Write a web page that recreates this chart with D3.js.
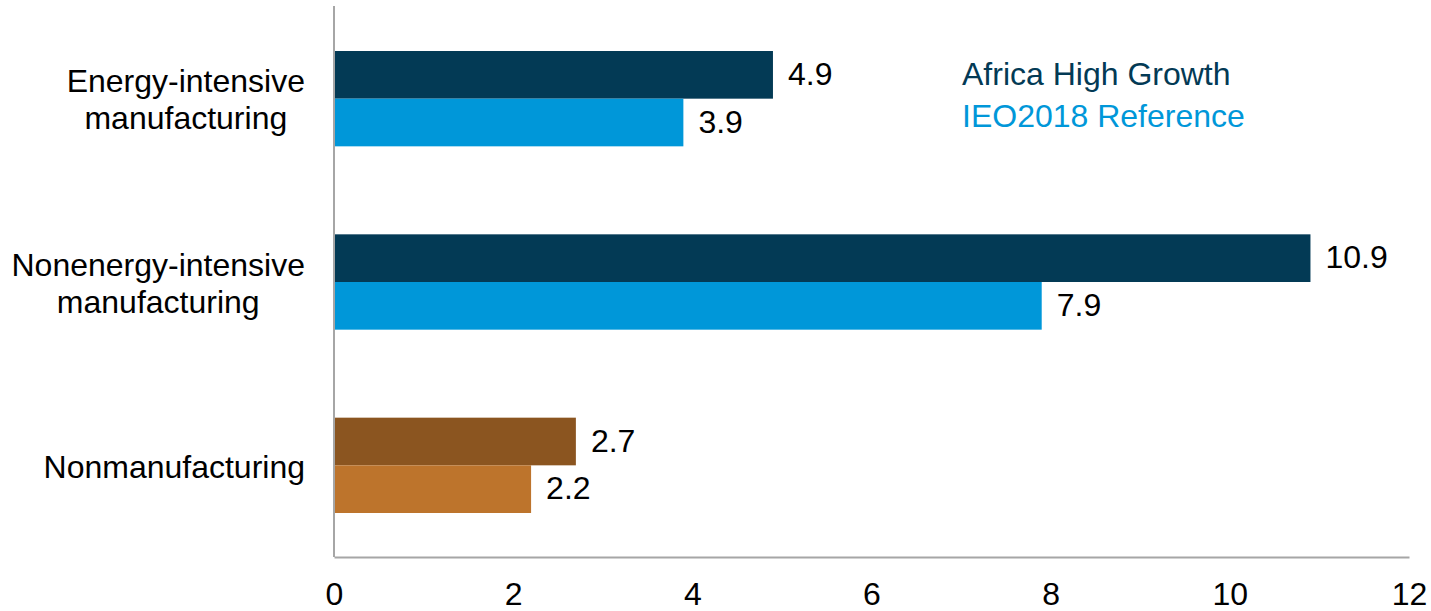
<!DOCTYPE html>
<html>
<head>
<meta charset="utf-8">
<script src="https://cdn.jsdelivr.net/npm/d3@7"></script>
<style>
  body { margin: 0; background: #fff; }
  text { font-family: "Liberation Sans", Arial, sans-serif; }
</style>
</head>
<body>
<svg id="chart" width="1431" height="611"></svg>
<script>
// data
var categories = ["Energy-intensive manufacturing", "Nonenergy-intensive manufacturing", "Nonmanufacturing"];
var catLines = [["Energy-intensive", "manufacturing"], ["Nonenergy-intensive", "manufacturing"], ["Nonmanufacturing"]];
var highGrowth = [4.9, 10.9, 2.7];
var reference = [3.9, 7.9, 2.2];
var xTicks = [0, 2, 4, 6, 8, 10, 12];
var seriesNames = ["Africa High Growth", "IEO2018 Reference"];
// colours per category: [high growth, reference]
var barColors = [["#033a55", "#0097d9"], ["#033a55", "#0097d9"], ["#8b5520", "#bd742c"]];
var legendColors = ["#033a55", "#0097d9"];

var svg = d3.select("#chart");
var plotLeft = 334, plotRight = 1409, plotTop = 7, plotBottom = 557;
var fs = 32;

var x = d3.scaleLinear().domain([0, 12]).range([plotLeft, plotRight]);
var y = d3.scaleBand().domain(categories).range([plotTop, plotBottom]).paddingInner(0.48).paddingOuter(0.24);
var sub = d3.scaleBand().domain([0, 1]).range([0, y.bandwidth()]);

var data = categories.map(function(c, i) {
  return { cat: c, i: i, vals: [highGrowth[i], reference[i]] };
});

var groups = svg.selectAll(".grp").data(data).enter().append("g")
  .attr("class", "grp")
  .attr("transform", d => "translate(0," + y(d.cat) + ")");

groups.selectAll("rect").data(d => d.vals.map((v, k) => ({ v: v, k: k, i: d.i })))
  .enter().append("rect")
  .attr("x", x(0))
  .attr("y", d => sub(d.k))
  .attr("width", d => x(d.v) - x(0))
  .attr("height", sub.bandwidth())
  .attr("fill", d => barColors[d.i][d.k]);

groups.selectAll(".val").data(d => d.vals.map((v, k) => ({ v: v, k: k })))
  .enter().append("text")
  .attr("class", "val")
  .attr("x", d => x(d.v) + 15)
  .attr("y", d => sub(d.k) + sub.bandwidth() / 2)
  .attr("dy", "0.32em")
  .attr("font-size", fs)
  .attr("fill", "#000")
  .text(d => d.v.toFixed(1));

// category labels: block right-aligned at labelRight, lines centred in the block
var labelRight = 305;
data.forEach(function(d) {
  var lines = catLines[d.i];
  var cy = y(d.cat) + y.bandwidth() / 2 + 2;
  var t = svg.append("text")
    .attr("text-anchor", "middle")
    .attr("font-size", fs)
    .attr("fill", "#000");
  var spans = lines.map(function(l, j) {
    return t.append("tspan")
      .attr("y", cy + (j - (lines.length - 1) / 2) * 37)
      .attr("dy", "0.32em")
      .text(l);
  });
  var maxW = d3.max(spans, s => s.node().getComputedTextLength());
  spans.forEach(s => s.attr("x", labelRight - maxW / 2));
});

// axes
var xAxis = svg.append("g")
  .attr("transform", "translate(0," + plotBottom + ")")
  .call(d3.axisBottom(x).tickValues(xTicks).tickSize(0).tickPadding(25).tickFormat(d3.format("d")));
xAxis.select(".domain").attr("stroke", "#a6a6a6").attr("stroke-width", 2);
xAxis.selectAll("text").attr("font-size", fs).attr("fill", "#000")
  .style("font-family", "Liberation Sans, Arial, sans-serif");

svg.append("line")
  .attr("x1", plotLeft).attr("x2", plotLeft)
  .attr("y1", 6).attr("y2", plotBottom)
  .attr("stroke", "#a6a6a6").attr("stroke-width", 2);

// legend
svg.selectAll(".leg").data(seriesNames).enter().append("text")
  .attr("class", "leg")
  .attr("x", 962)
  .attr("y", (d, i) => 85 + i * 42)
  .attr("font-size", fs)
  .attr("fill", (d, i) => legendColors[i])
  .text(d => d);
</script>
</body>
</html>
